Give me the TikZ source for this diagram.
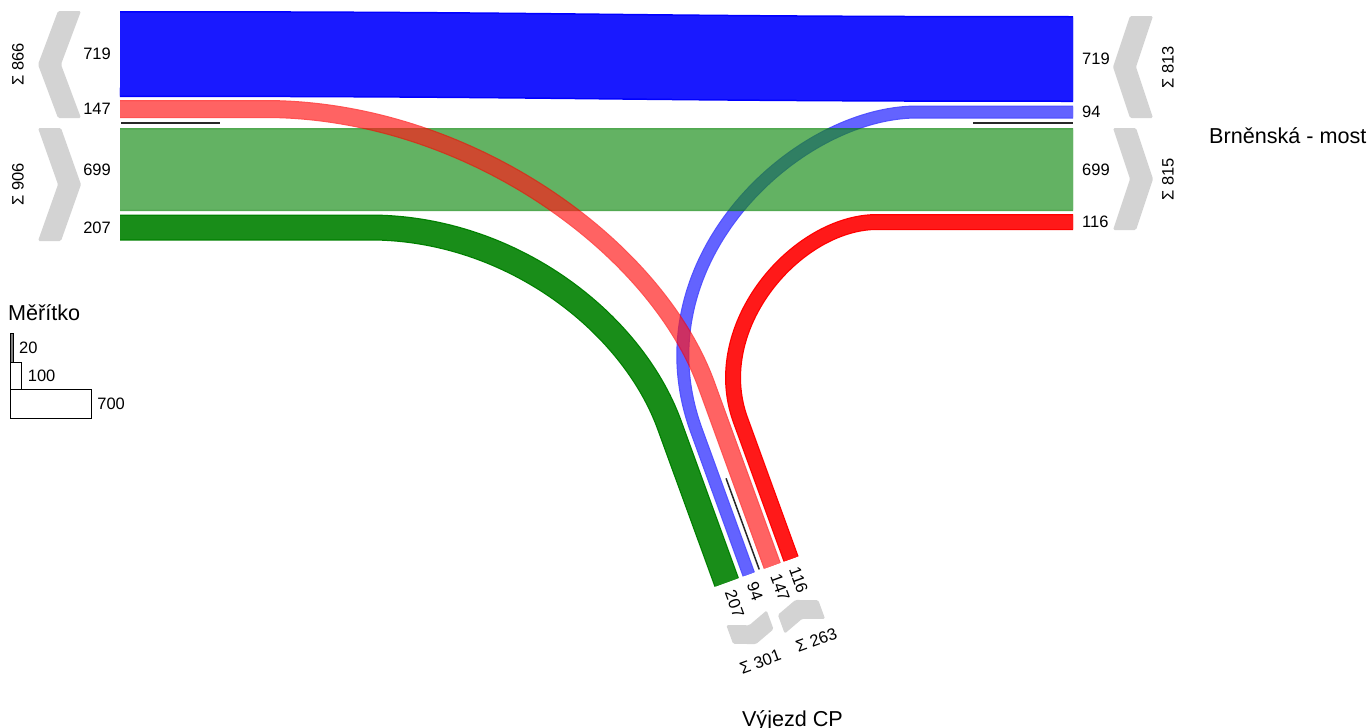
\documentclass[tikz,border=0pt]{standalone}
\usepackage{fontspec}
\setmainfont{Liberation Sans}
\usetikzlibrary{positioning}
\definecolor{flowblue}{RGB}{0,0,255}
\definecolor{flowred}{RGB}{255,0,0}
\definecolor{flowgreen}{RGB}{0,128,0}
\definecolor{sumgray}{RGB}{211,211,211}
\definecolor{sepgray}{RGB}{40,40,40}
\tikzset{
  band/.style n args={3}{preaction={draw=#1, line width=#2}, draw=#1!90!white, line width=#3, line cap=butt},
  num/.style={font=\fontsize{16.5}{19}\selectfont, inner sep=0pt},
  titletext/.style={font=\fontsize{21.6}{26}\selectfont, inner sep=0pt},
  sumchev/.style={fill=sumgray, rounded corners=1.5pt},
  sepline/.style={sepgray, line width=1.5pt},
  scalebox/.style={draw=black, line width=0.8pt, inner sep=0pt, outer sep=0pt},
}

\begin{document}
\begin{tikzpicture}[x=1pt, y=-1pt]
\useasboundingbox (0,0) rectangle (1371,728);

% Leg ends, left and right
\coordinate (L719) at (120,54);
\coordinate (L147) at (120,109);
\coordinate (L699) at (120,169.5);
\coordinate (L207) at (120,227.5);
\coordinate (R719) at (1073,59);
\coordinate (R94) at (1073,112);
\coordinate (R699) at (1073,169.5);
\coordinate (R116) at (1073,222);

% Bottom leg (Vyjezd CP)
\begin{scope}[shift={(714,587)}, rotate=20]
\coordinate (B207) at (13.5,0);
\coordinate (B207a) at (13.5,-167.6);
\coordinate (B207c) at (13.5,-277.6);
\coordinate (B94) at (37,0);
\coordinate (B94a) at (37,-153.4);
\coordinate (B94c) at (37,-333.4);
\coordinate (B147) at (62,0);
\coordinate (B147a) at (62,-192.2);
\coordinate (B147c) at (62,-342.2);
\coordinate (B116) at (82,0);
\coordinate (B116a) at (82,-147.9);
\coordinate (B116c) at (82,-247.9);
\end{scope}

% Flows
\draw[band={flowblue}{86pt}{83pt}] (L719) .. controls (600,54) and (600,59) .. (R719);
\begin{scope}[transparency group, opacity=0.68]
\draw[band={flowblue}{13pt}{10.5pt}] (R94) -- ++(-156,0) .. controls +(-120,0) and (B94c) .. (B94a) -- (B94);
\end{scope}
\begin{scope}[transparency group, opacity=0.68]
\draw[band={flowgreen}{83pt}{80pt}] (L699) -- (R699);
\end{scope}
\begin{scope}[transparency group, opacity=0.68]
\draw[band={flowred}{18pt}{15.5pt}] (L147) -- ++(145,0) .. controls +(200,0) and (B147c) .. (B147a) -- (B147);
\end{scope}
\draw[band={flowgreen}{26pt}{23.5pt}] (L207) -- ++(250,0) .. controls +(140,0) and (B207c) .. (B207a) -- (B207);
\draw[band={flowred}{16pt}{13.5pt}] (R116) -- ++(-196,0) .. controls +(-80,0) and (B116c) .. (B116a) -- (B116);

% Separators
\draw[sepline] (121,123) -- (220,123);
\draw[sepline] (973,123) -- (1073,123);

% Flow values
\node[num, left=9pt of L719] (l719) {719};
\node[num, left=9pt of L147] (l147) {147};
\node[num, left=9pt of L699] (l699) {699};
\node[num, left=9pt of L207] (l207) {207};
\node[num, right=9pt of R719] (r719) {719};
\node[num, right=9pt of R94] (r94) {94};
\node[num, right=9pt of R699] (r699) {699};
\node[num, right=9pt of R116] (r116) {116};

% Sum chevrons, sides
\fill[sumchev] (58,11) -- (81,11) -- (61,64.5) -- (81,118) -- (58,118) -- (38,64.5) -- cycle;
\fill[sumchev] (38,128) -- (61,128) -- (81,184.5) -- (61,241) -- (38,241) -- (58,184.5) -- cycle;
\fill[sumchev] (1130,16) -- (1153,16) -- (1136,67) -- (1153,118) -- (1130,118) -- (1113,67) -- cycle;
\fill[sumchev] (1113,128) -- (1136,128) -- (1153,179) -- (1136,230) -- (1113,230) -- (1130,179) -- cycle;
\node[num, rotate=90] (s866) at (18,64.5) {Σ 866};
\node[num, rotate=90] (s906) at (18,184.5) {Σ 906};
\node[num, rotate=90] (s813) at (1168,67) {Σ 813};
\node[num, rotate=90] (s815) at (1168,179) {Σ 815};

% Bottom leg: separator, values, sums
\begin{scope}[shift={(714,587)}, rotate=20]
\draw[sepline] (48.5,-1) -- (48.5,-98);
\node[num, rotate=-70, anchor=west] (b207) at (13.5,9) {207};
\node[num, rotate=-70, anchor=west] (b94) at (37,9) {94};
\node[num, rotate=-70, anchor=west] (b147) at (62,9) {147};
\node[num, rotate=-70, anchor=west] (b116) at (82,9) {116};
\fill[sumchev] (-1.5,40) -- (20,48) -- (41.5,40) -- (41.5,60) -- (20,68) -- (-1.5,60) -- cycle;
\fill[sumchev] (50.5,68) -- (72,60) -- (93.5,68) -- (93.5,48) -- (72,40) -- (50.5,48) -- cycle;
\node[num, rotate=20] (s301) at (18,86) {Σ 301};
\node[num, rotate=20] (s263) at (78,85) {Σ 263};
\end{scope}

% Leg names
\node[titletext, anchor=base west] (brno) at (1209,143.3) {Brněnská - most};
\node[titletext, anchor=base] (cp) at (792.5,726) {Výjezd CP};

% Scale
\node[titletext, anchor=base west] (meritko) at (8,320) {Měřítko};
\node[scalebox, fill=gray, minimum width=2.2pt, minimum height=29pt, anchor=north west] (s20) at (10.7,333) {};
\node[scalebox, minimum width=11pt, minimum height=27pt, anchor=north west] (s100) at (10.7,362) {};
\node[scalebox, minimum width=81pt, minimum height=29pt, anchor=north west] (s700) at (10.7,389) {};
\node[num, right=6pt of s20] (t20) {20};
\node[num, right=6pt of s100] (t100) {100};
\node[num, right=5.5pt of s700] (t700) {700};
\end{tikzpicture}
\end{document}
